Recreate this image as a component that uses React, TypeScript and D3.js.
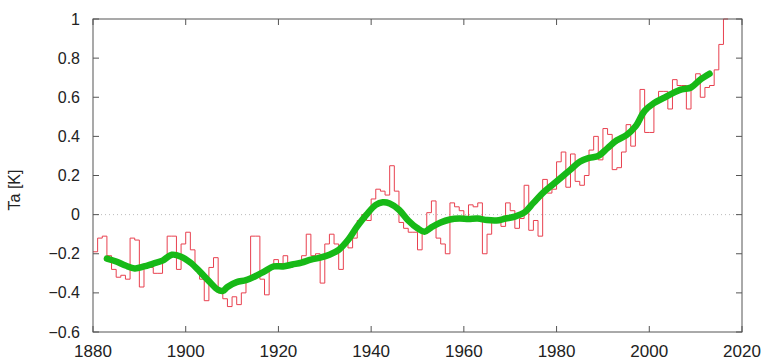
import React, { useEffect, useRef } from 'react'
import * as d3 from 'd3'

// annual values, 1880..2016
const firstYear = 1880
const annual = [
  -0.19, -0.12, -0.11, -0.21, -0.28, -0.32, -0.31, -0.33, -0.12, -0.13,
  -0.37, -0.25, -0.27, -0.30, -0.30, -0.23, -0.11, -0.11, -0.28, -0.15,
  -0.09, -0.18, -0.27, -0.33, -0.44, -0.27, -0.22, -0.40, -0.43, -0.47,
  -0.42, -0.46, -0.40, -0.34, -0.11, -0.11, -0.33, -0.41, -0.27, -0.23,
  -0.25, -0.21, -0.27, -0.25, -0.26, -0.21, -0.10, -0.21, -0.20, -0.35,
  -0.15, -0.10, -0.15, -0.28, -0.15, -0.17, -0.12, -0.03, 0.00, -0.03,
  0.08, 0.13, 0.12, 0.10, 0.25, 0.12, -0.04, -0.07, -0.09, -0.09,
  -0.18, -0.08, 0.01, 0.07, -0.12, -0.15, -0.20, 0.06, 0.04, 0.02,
  -0.02, 0.05, 0.04, 0.06, -0.20, -0.10, -0.04, -0.03, -0.06, 0.06,
  0.02, -0.07, -0.02, 0.15, -0.08, -0.03, -0.11, 0.18, 0.11, 0.13,
  0.27, 0.32, 0.14, 0.31, 0.17, 0.15, 0.20, 0.33, 0.40, 0.28,
  0.44, 0.41, 0.23, 0.24, 0.32, 0.46, 0.35, 0.46, 0.64, 0.42,
  0.42, 0.57, 0.63, 0.63, 0.54, 0.69, 0.66, 0.66, 0.54, 0.66,
  0.72, 0.60, 0.65, 0.66, 0.74, 0.87, 1.00,
]

// smoothed curve
const smoothYears = [
  1883, 1885, 1887, 1889, 1891, 1893, 1895, 1897, 1899, 1901,
  1903, 1905, 1907, 1908, 1909, 1911, 1913, 1915, 1917, 1919,
  1921, 1923, 1925, 1927, 1929, 1931, 1933, 1935, 1937, 1939,
  1941, 1942.5, 1944, 1946, 1948, 1950, 1951.5, 1953, 1955, 1957,
  1959, 1961, 1963, 1965, 1967, 1969, 1971, 1973, 1975, 1977,
  1979, 1981, 1983, 1985, 1987, 1989, 1991, 1993, 1995, 1997,
  1999, 2001, 2003, 2005, 2007, 2009, 2011, 2013,
]
const smoothValues = [
  -0.225, -0.24, -0.26, -0.275, -0.265, -0.25, -0.235, -0.205, -0.215, -0.245,
  -0.29, -0.34, -0.385, -0.39, -0.37, -0.345, -0.335, -0.315, -0.29, -0.265,
  -0.265, -0.255, -0.245, -0.23, -0.22, -0.205, -0.18, -0.13, -0.06, 0.0,
  0.05, 0.063, 0.057, 0.025, -0.03, -0.07, -0.087, -0.065, -0.04, -0.025,
  -0.02, -0.022, -0.02, -0.028, -0.03, -0.02, -0.01, 0.01, 0.06, 0.11,
  0.15, 0.19, 0.23, 0.27, 0.29, 0.30, 0.34, 0.38, 0.405, 0.45,
  0.53, 0.57, 0.595, 0.62, 0.64, 0.65, 0.69, 0.72,
]

const xTicks = [1880, 1900, 1920, 1940, 1960, 1980, 2000, 2020]
const yTicks = [-0.6, -0.4, -0.2, 0, 0.2, 0.4, 0.6, 0.8, 1]

const W = 763
const H = 360
const margin = { top: 19, right: 21, bottom: 28, left: 93 }

export default function App() {
  const ref = useRef<SVGSVGElement>(null)

  useEffect(() => {
    const svg = d3.select(ref.current)
    svg.selectAll('*').remove()

    const x = d3.scaleLinear().domain([1880, 2020]).range([margin.left, W - margin.right])
    const y = d3.scaleLinear().domain([-0.6, 1]).range([H - margin.bottom, margin.top])
    const font = 'Liberation Sans, Arial, sans-serif'

    svg.append('defs').append('clipPath').attr('id', 'plot')
      .append('rect')
      .attr('x', margin.left).attr('y', margin.top - 1)
      .attr('width', x(2020) - x(1880)).attr('height', y(-0.6) - y(1) + 1)

    // dotted zero line
    svg.append('line')
      .attr('x1', x(1880)).attr('x2', x(2020))
      .attr('y1', y(0)).attr('y2', y(0))
      .attr('stroke', '#bbb').attr('stroke-dasharray', '1,3')

    // red steps, each year held until the next one
    const steps: [number, number][] = []
    annual.forEach((v, i) => {
      const yr = firstYear + i
      steps.push([yr, v], [yr + 1, v])
    })
    svg.append('path')
      .datum(steps)
      .attr('clip-path', 'url(#plot)')
      .attr('fill', 'none')
      .attr('stroke', '#e8404f')
      .attr('stroke-width', 1)
      .attr('d', d3.line<[number, number]>().x(d => x(d[0])).y(d => y(d[1])))

    // smoothed green line
    const smooth = smoothYears.map((yr, i) => [yr, smoothValues[i]] as [number, number])
    svg.append('path')
      .datum(smooth)
      .attr('fill', 'none')
      .attr('stroke', '#17b917')
      .attr('stroke-width', 6.5)
      .attr('stroke-linecap', 'round')
      .attr('d', d3.line<[number, number]>().x(d => x(d[0])).y(d => y(d[1])).curve(d3.curveCatmullRom))

    // frame
    svg.append('rect')
      .attr('x', x(1880)).attr('y', y(1))
      .attr('width', x(2020) - x(1880)).attr('height', y(-0.6) - y(1))
      .attr('fill', 'none').attr('stroke', '#555').attr('stroke-width', 1)

    const tick = 6
    xTicks.forEach(t => {
      svg.append('line').attr('x1', x(t)).attr('x2', x(t))
        .attr('y1', y(-0.6)).attr('y2', y(-0.6) - tick).attr('stroke', '#555')
      svg.append('line').attr('x1', x(t)).attr('x2', x(t))
        .attr('y1', y(1)).attr('y2', y(1) + tick).attr('stroke', '#555')
      svg.append('text').attr('x', x(t)).attr('y', 357)
        .attr('text-anchor', 'middle').attr('font-family', font).attr('font-size', 17)
        .attr('fill', '#222').text(String(t))
    })
    yTicks.forEach(t => {
      svg.append('line').attr('x1', x(1880)).attr('x2', x(1880) + tick)
        .attr('y1', y(t)).attr('y2', y(t)).attr('stroke', '#555')
      svg.append('line').attr('x1', x(2020)).attr('x2', x(2020) - tick)
        .attr('y1', y(t)).attr('y2', y(t)).attr('stroke', '#555')
      svg.append('text').attr('x', x(1880) - 13).attr('y', y(t) + 5.5)
        .attr('text-anchor', 'end').attr('font-family', font).attr('font-size', 16)
        .attr('fill', '#222').text(d3.format('~g')(t))
    })

    svg.append('text')
      .attr('transform', `translate(20, 190) rotate(-90)`)
      .attr('text-anchor', 'middle').attr('font-family', font).attr('font-size', 16)
      .attr('fill', '#222').text('Ta [K]')
  }, [])

  return (
    <svg ref={ref} width={W} height={H}
      style={{ position: 'absolute', left: 0, top: 0, background: '#fff' }} />
  )
}
